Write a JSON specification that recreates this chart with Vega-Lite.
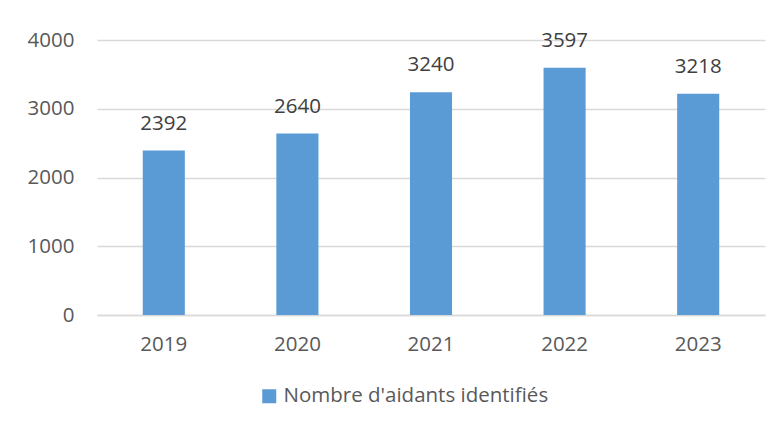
{
  "$schema": "https://vega.github.io/schema/vega-lite/v6.json",
  "width": 668,
  "height": 275,
  "autosize": "none",
  "padding": {"left": 97, "top": 40, "right": 17, "bottom": 117},
  "background": "white",
  "data": {"values": [
    {"annee": "2019", "valeur": 2392, "serie": "Nombre d'aidants identifiés"},
    {"annee": "2020", "valeur": 2640, "serie": "Nombre d'aidants identifiés"},
    {"annee": "2021", "valeur": 3240, "serie": "Nombre d'aidants identifiés"},
    {"annee": "2022", "valeur": 3597, "serie": "Nombre d'aidants identifiés"},
    {"annee": "2023", "valeur": 3218, "serie": "Nombre d'aidants identifiés"}
  ]},
  "config": {
    "view": {"stroke": null},
    "font": "Open Sans",
    "axis": {"labelFont": "Open Sans", "labelFontSize": 20.5, "labelColor": "#595959"},
    "legend": {"labelFont": "Open Sans", "labelFontSize": 20.5, "labelColor": "#595959", "labelLimit": 0}
  },
  "encoding": {
    "x": {"field": "annee", "type": "nominal", "scale": {"padding": 0},
      "axis": {"title": null, "labelAngle": 0, "ticks": false, "domainColor": "#D9D9D9", "domainWidth": 1.5, "labelPadding": 19, "grid": false}},
    "y": {"field": "valeur", "type": "quantitative", "scale": {"domain": [0, 4000]},
      "axis": {"title": null, "values": [0, 1000, 2000, 3000, 4000], "format": "d", "ticks": false, "domain": false, "labelPadding": 23, "gridColor": "#D9D9D9", "gridWidth": 1.5}}
  },
  "layer": [
    {
      "mark": {"type": "bar", "width": {"band": 0.315}},
      "encoding": {
        "color": {"field": "serie", "type": "nominal", "scale": {"range": ["#5B9BD5"]},
          "legend": {"title": null, "orient": "none", "legendX": 162, "legendY": 346, "symbolType": "square", "symbolSize": 196, "symbolStrokeWidth": 0, "labelOffset": 4, "labelLimit": 0}}
      }
    },
    {
      "mark": {"type": "text", "dy": -27, "fontSize": 20.5, "color": "#404040", "font": "Open Sans"},
      "encoding": {"text": {"field": "valeur", "type": "quantitative", "format": "d"}}
    }
  ]
}
